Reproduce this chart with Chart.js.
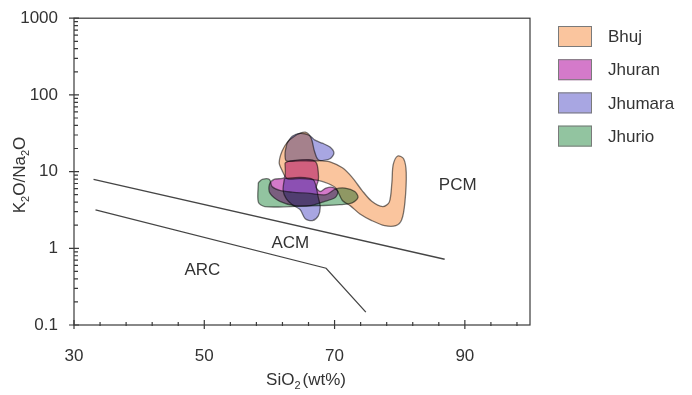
<!DOCTYPE html>
<html>
<head>
<meta charset="utf-8">
<script src="https://cdn.jsdelivr.net/npm/chart.js@4.4.1/dist/chart.umd.min.js"></script>
<style>
  html, body { margin: 0; padding: 0; background: #fff; }
  #wrap { width: 692px; height: 395px; }
</style>
</head>
<body>
<div id="wrap"><canvas id="myChart"></canvas></div>
<script>
// fields as [SiO2 wt%, K2O/Na2O]
var bhuj = [[64.3, 30.7], [65.5, 32.6], [66.4, 27.3], [66.9, 18.6], [67.5, 14.3], [69.3, 13.4],
  [71.2, 11.2], [72.7, 8.4], [74.2, 5.7], [75.7, 4.1], [77.4, 3.5], [78.4, 4.0], [78.8, 7.2],
  [79.0, 12.3], [79.7, 16.0], [80.6, 14.7], [81.0, 9.7], [80.8, 4.0], [80.3, 2.35], [79.4, 1.97],
  [77.7, 1.97], [75.7, 2.3], [73.9, 2.8], [72.4, 3.6], [71.2, 4.2], [70.2, 6.1], [69.0, 7.0],
  [67.5, 7.7], [64.7, 8.1], [62.7, 8.1], [61.95, 10.3], [61.5, 13.0], [61.95, 18.6], [62.9, 25.0]];

var jhuran = [[62.4, 13.0], [63.2, 13.8], [66.2, 14.3], [67.2, 13.0], [67.5, 9.7], [67.5, 7.7],
  [67.2, 6.2], [67.8, 5.5], [68.7, 6.1], [69.8, 6.2], [70.5, 5.5], [70.1, 4.6], [68.5, 4.1],
  [66.2, 3.6], [63.9, 3.6], [61.6, 4.1], [60.1, 5.2], [60.0, 6.8], [60.7, 7.9], [62.3, 8.4]];

var jhumaraUpper = [[62.7, 23.5], [63.5, 28.9], [64.7, 31.6], [66.1, 29.8], [67.0, 25.7], [68.1, 23.5],
  [69.3, 20.9], [69.9, 17.5], [69.3, 14.7], [67.5, 13.8], [64.7, 13.8], [62.6, 13.8], [62.4, 17.5]];

var jhumaraLower = [[62.3, 8.1], [64.7, 8.4], [66.7, 7.9], [67.2, 6.2], [67.5, 4.6], [67.8, 3.5],
  [67.5, 2.65], [66.6, 2.3], [65.5, 2.43], [64.7, 3.2], [63.5, 3.7], [62.6, 4.4], [62.1, 5.7]];

var jhurio = [[58.3, 7.2], [58.9, 7.9], [60.0, 7.9], [60.4, 6.4], [61.6, 5.7], [63.5, 5.4], [66.2, 5.2],
  [68.7, 5.0], [70.1, 5.9], [71.6, 6.1], [73.1, 5.5], [73.6, 4.6], [72.7, 3.9], [70.8, 3.7],
  [67.8, 3.6], [63.2, 3.5], [59.3, 3.5], [58.3, 4.0]];

// tectonic setting boundaries
var pcmAcmLine = [[33.0, 7.9], [86.9, 0.72]];
var acmArcLine = [[33.3, 3.16], [68.7, 0.55], [74.8, 0.147]];

var fieldNames = ['PCM', 'ACM', 'ARC'];
var fieldNameX = [88.9, 63.2, 49.7];
var fieldNameY = [6.6, 1.16, 0.51];

var seriesNames = ['Bhuj', 'Jhuran', 'Jhumara', 'Jhurio'];
var seriesColors = ['rgba(249,187,141,0.85)', 'rgba(204,99,193,0.85)',
  'rgba(153,150,221,0.85)', 'rgba(127,186,143,0.85)'];

var xTicks = [30, 50, 70, 90];
var yTicks = [0.1, 1, 10, 100, 1000];

var FONT = '"Liberation Sans", Arial, Helvetica, sans-serif';
var INK = '#333';

function toXY(pts) {
    return pts.map(function (p) { return { x: p[0], y: p[1] } })
}

function field(pts, color) {
    return {
        data: toXY(pts.concat([pts[0]])),
        showLine: true,
        fill: 'shape',
        backgroundColor: color,
        borderColor: '#7a7a7a',
        borderWidth: 1.3,
        pointRadius: 0,
        tension: 0.3
    }
}

function boundary(pts) {
    return {
        data: toXY(pts),
        showLine: true,
        fill: false,
        borderColor: '#454545',
        borderWidth: 1.3,
        pointRadius: 0,
        tension: 0
    }
}

// text with subscript pieces, drawn from the current origin, centred
function drawSubText(ctx, parts) {
    var big = '17px ' + FONT, small = '11px ' + FONT;
    var total = 0;
    parts.forEach(function (p) {
        ctx.font = p[1] ? small : big;
        total += ctx.measureText(p[0]).width + (p[2] || 0);
    });
    var x = -total / 2;
    parts.forEach(function (p) {
        ctx.font = p[1] ? small : big;
        ctx.fillText(p[0], x, p[1] ? 4 : 0);
        x += ctx.measureText(p[0]).width + (p[2] || 0);
    });
}

// overlapping fields darken each other
var multiply = {
    id: 'multiply',
    beforeDatasetsDraw: function (chart) {
        chart.ctx.save();
        chart.ctx.globalCompositeOperation = 'multiply';
    },
    afterDatasetsDraw: function (chart) {
        chart.ctx.restore();
    }
};

var decorations = {
    id: 'decorations',
    afterDraw: function (chart) {
        var ctx = chart.ctx, a = chart.chartArea;
        var xs = chart.scales.x, ys = chart.scales.y;
        ctx.save();

        // frame
        ctx.strokeStyle = '#3a3a3a';
        ctx.lineWidth = 1.2;
        ctx.strokeRect(a.left, a.top, a.right - a.left, a.bottom - a.top);

        // x ticks every 4 wt%
        ctx.beginPath();
        for (var v = 30; v < 100; v += 4) {
            var px = xs.getPixelForValue(v);
            var major = xTicks.indexOf(v) >= 0;
            ctx.moveTo(px, a.bottom - (major ? 5 : 3));
            ctx.lineTo(px, a.bottom + (major ? 4 : 1));
        }
        // y log ticks
        for (var d = -1; d < 3; d++) {
            for (var m = 1; m < 10; m++) {
                var py = ys.getPixelForValue(m * Math.pow(10, d));
                ctx.moveTo(a.left - (m == 1 ? 5 : 0), py);
                ctx.lineTo(a.left + (m == 1 ? 5 : 4), py);
            }
        }
        ctx.moveTo(a.left - 5, a.top);
        ctx.lineTo(a.left + 5, a.top);
        ctx.stroke();

        ctx.fillStyle = INK;

        // setting labels
        ctx.font = '17px ' + FONT;
        ctx.textAlign = 'center';
        ctx.textBaseline = 'middle';
        fieldNames.forEach(function (n, i) {
            ctx.fillText(n, xs.getPixelForValue(fieldNameX[i]), ys.getPixelForValue(fieldNameY[i]));
        });

        // axis titles
        ctx.textAlign = 'left';
        ctx.textBaseline = 'alphabetic';
        ctx.save();
        ctx.translate(306, 385);
        drawSubText(ctx, [['SiO', false], ['2', true, 2], ['(wt%)', false]]);
        ctx.restore();

        ctx.save();
        ctx.translate(25, 175);
        ctx.rotate(-Math.PI / 2);
        drawSubText(ctx, [['K', false], ['2', true], ['O/Na', false], ['2', true], ['O', false]]);
        ctx.restore();

        // legend
        ctx.font = '17px ' + FONT;
        ctx.textBaseline = 'middle';
        ctx.lineWidth = 1;
        ctx.strokeStyle = '#7a7a7a';
        seriesNames.forEach(function (n, i) {
            var cy = 36.5 + i * 33.2;
            ctx.fillStyle = seriesColors[i];
            ctx.fillRect(558, cy - 10.5, 34, 21);
            ctx.strokeRect(558.5, cy - 10, 33, 20);
            ctx.fillStyle = INK;
            ctx.fillText(n, 608, cy + 1);
        });

        ctx.restore();
    }
};

Chart.defaults.font.family = FONT;
Chart.defaults.font.size = 17;
Chart.defaults.color = INK;

const ctx = document.getElementById('myChart');

new Chart(ctx, {
    type: 'scatter',
    data: {
        datasets: [
            boundary(pcmAcmLine),
            boundary(acmArcLine),
            field(jhurio, seriesColors[3]),
            field(jhumaraLower, seriesColors[2]),
            field(jhumaraUpper, seriesColors[2]),
            field(jhuran, seriesColors[1]),
            field(bhuj, seriesColors[0])
        ]
    },
    options: {
        responsive: true,
        maintainAspectRatio: false,
        animation: false,
        layout: { padding: { top: 13, right: 162, left: 0, bottom: 0 } },
        plugins: {
            legend: { display: false },
            tooltip: { enabled: false }
        },
        scales: {
            x: {
                type: 'linear',
                min: 30,
                max: 100,
                grid: { display: false },
                border: { display: false },
                ticks: { padding: 13 },
                afterBuildTicks: function (s) {
                    s.ticks = xTicks.map(function (v) { return { value: v } });
                },
                afterFit: function (s) { s.height = 70 }
            },
            y: {
                type: 'logarithmic',
                min: 0.1,
                max: 1000,
                grid: { display: false },
                border: { display: false },
                ticks: {
                    padding: 8,
                    callback: function (v) { return String(v) }
                },
                afterBuildTicks: function (s) {
                    s.ticks = yTicks.map(function (v) { return { value: v } });
                },
                afterFit: function (s) { s.width = 74 }
            }
        }
    },
    plugins: [multiply, decorations]
});
</script>
</body>
</html>
